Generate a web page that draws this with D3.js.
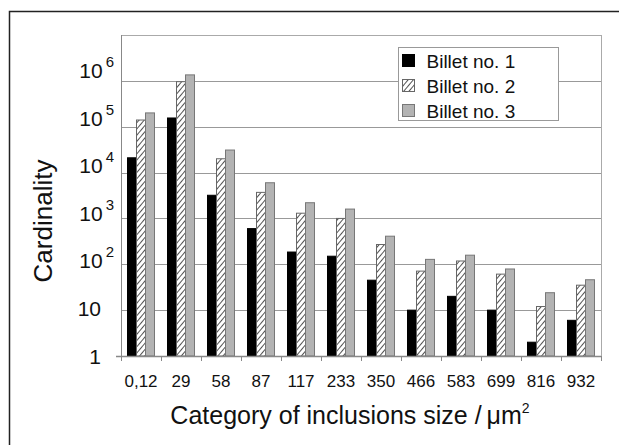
<!DOCTYPE html>
<html>
<head>
<meta charset="utf-8">
<script src="https://cdn.jsdelivr.net/npm/d3@7"></script>
<style>
  body { margin: 0; background: #fff; }
  svg { font-family: "Liberation Sans", Arial, sans-serif; }
</style>
</head>
<body>
<div id="chart"></div>
<script>
// category labels (inclusion size, um^2)
var categories = ["0,12", "29", "58", "87", "117", "233", "350", "466", "583", "699", "816", "932"];
var seriesNames = ["Billet no. 1", "Billet no. 2", "Billet no. 3"];
var billet1 = [21000, 155000, 3200, 600, 185, 150, 45, 10, 20, 10, 2, 6];
var billet2 = [140000, 960000, 20000, 3700, 1300, 1000, 270, 71, 118, 61, 12, 35];
var billet3 = [200000, 1350000, 31000, 6000, 2200, 1600, 410, 128, 158, 79, 24, 46];
var yTicks = [1, 10, 100, 1000, 10000, 100000, 1000000];
var yTickLabels = [["1", ""], ["10", ""], ["10", "2"], ["10", "3"], ["10", "4"], ["10", "5"], ["10", "6"]];

var width = 619, height = 445;
var margin = { top: 35, left: 121, right: 18, bottom: 89 };
var plotW = width - margin.left - margin.right,
    plotH = height - margin.top - margin.bottom;

var svg = d3.select("#chart").append("svg")
    .attr("width", width)
    .attr("height", height);

// pattern for the hatched series
var defs = svg.append("defs");
var pat = defs.append("pattern")
    .attr("id", "hatch")
    .attr("patternUnits", "userSpaceOnUse")
    .attr("width", 4)
    .attr("height", 4)
    .attr("patternTransform", "rotate(40)");
pat.append("rect").attr("width", 4).attr("height", 4).attr("fill", "#fff");
pat.append("line")
    .attr("x1", 0).attr("y1", 0).attr("x2", 0).attr("y2", 4)
    .attr("stroke", "#333").attr("stroke-width", 1.7);

// outer frame
svg.append("path")
    .attr("d", "M9.5," + (height + 5) + " V11.5 H" + (width + 5))
    .attr("fill", "none")
    .attr("stroke", "#222")
    .attr("stroke-width", 1.5);

var g = svg.append("g")
    .attr("transform", "translate(" + margin.left + "," + margin.top + ")");

var x = d3.scaleBand()
    .domain(categories)
    .range([0, plotW]);

var y = d3.scaleLog()
    .domain([1, 1e7])
    .range([plotH, 0]);

// the printed labels sit a little wider apart than the gridlines
var yLabel = d3.scaleLog()
    .domain([1, 1e6])
    .range([plotH, plotH - 6 * 47.6]);

var fills = ["#000", "url(#hatch)", "#b3b3b3"];
var strokes = ["#000", "#666", "#777"];
var barW = 9;

// plot area border and gridlines
g.append("rect")
    .attr("x", 0.5).attr("y", 0.5)
    .attr("width", plotW).attr("height", plotH)
    .attr("fill", "none")
    .attr("stroke", "#aaa");

g.selectAll(".grid")
    .data(yTicks.slice(1))
    .join("line")
    .attr("class", "grid")
    .attr("x1", 0).attr("x2", plotW)
    .attr("y1", function (d) { return Math.round(y(d)) + 0.5; })
    .attr("y2", function (d) { return Math.round(y(d)) + 0.5; })
    .attr("stroke", "#999")
    .attr("stroke-width", 1);

// bars
var data = [billet1, billet2, billet3];
data.forEach(function (vals, si) {
    g.selectAll(".bar" + si)
        .data(vals)
        .join("rect")
        .attr("class", "bar" + si)
        .attr("x", function (d, i) { return x(categories[i]) + x.bandwidth() / 2 - 1.5 * barW + si * barW; })
        .attr("y", function (d) { return y(d); })
        .attr("width", barW)
        .attr("height", function (d) { return plotH - y(d); })
        .attr("fill", fills[si])
        .attr("stroke", strokes[si])
        .attr("stroke-width", 1);
});

// axes lines
g.append("line")
    .attr("x1", 0.5).attr("x2", 0.5).attr("y1", 0).attr("y2", plotH + 4)
    .attr("stroke", "#888");
g.append("line")
    .attr("x1", -5).attr("x2", plotW).attr("y1", plotH + 0.5).attr("y2", plotH + 0.5)
    .attr("stroke", "#888").attr("stroke-width", 1.5);

// x ticks at band boundaries
g.selectAll(".xtick")
    .data(d3.range(categories.length + 1))
    .join("line")
    .attr("class", "xtick")
    .attr("x1", function (i) { return i * x.step() + 0.5; })
    .attr("x2", function (i) { return i * x.step() + 0.5; })
    .attr("y1", plotH).attr("y2", plotH + 5)
    .attr("stroke", "#888");

g.selectAll(".xlabel")
    .data(categories)
    .join("text")
    .attr("class", "xlabel")
    .attr("x", function (d) { return x(d) + x.bandwidth() / 2; })
    .attr("y", plotH + 31)
    .attr("text-anchor", "middle")
    .attr("font-size", "17px")
    .attr("fill", "#111")
    .text(function (d) { return d; });

// y labels with superscript exponents
var yl = g.selectAll(".ylabel")
    .data(yTicks)
    .join("text")
    .attr("class", "ylabel")
    .attr("x", function (d, i) { return yTickLabels[i][1] ? -7 : -20; })
    .attr("y", function (d) { return yLabel(d) + 7.5; })
    .attr("text-anchor", "end")
    .attr("font-size", "21px")
    .attr("fill", "#111");
yl.append("tspan").text(function (d, i) { return yTickLabels[i][0]; });
yl.append("tspan")
    .attr("dy", -11)
    .attr("dx", 3)
    .attr("font-size", "15px")
    .text(function (d, i) { return yTickLabels[i][1]; });

// axis titles
svg.append("text")
    .attr("transform", "translate(52,221) rotate(-90)")
    .attr("text-anchor", "middle")
    .attr("font-size", "26px")
    .attr("fill", "#111")
    .text("Cardinality");

var xt = svg.append("text")
    .attr("x", 350)
    .attr("y", 424)
    .attr("text-anchor", "middle")
    .attr("font-size", "25px")
    .attr("fill", "#111");
xt.append("tspan").text("Category of inclusions size /\u2009\u03bcm");
xt.append("tspan").attr("dy", -11).attr("font-size", "14px").text("2");

// legend
var legend = svg.append("g")
    .attr("transform", "translate(398.5,47.5)");
legend.append("rect")
    .attr("width", 160).attr("height", 73)
    .attr("fill", "#fff")
    .attr("stroke", "#999");
seriesNames.forEach(function (name, i) {
    var item = legend.append("g")
        .attr("transform", "translate(4," + (7 + i * 25) + ")");
    item.append("rect")
        .attr("width", 12).attr("height", 12)
        .attr("fill", fills[i])
        .attr("stroke", strokes[i]);
    item.append("text")
        .attr("x", 24).attr("y", 13)
        .attr("font-size", "19px")
        .attr("fill", "#111")
        .text(name);
});
</script>
</body>
</html>
